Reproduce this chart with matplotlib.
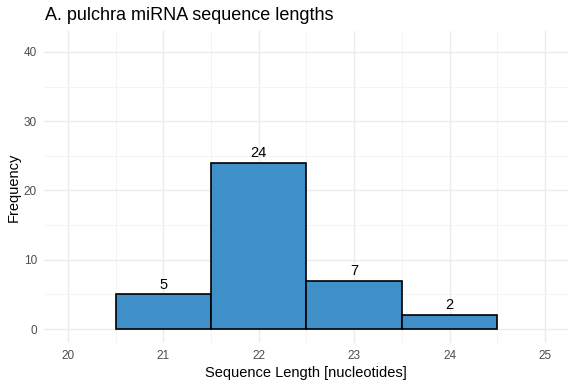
import matplotlib
matplotlib.use('Agg')
import matplotlib.pyplot as plt

plt.rcParams['font.family'] = ['Liberation Sans', 'DejaVu Sans']

lengths = [21, 22, 23, 24]
counts = [5, 24, 7, 2]
x_ticks = [20, 21, 22, 23, 24, 25]
y_ticks = [0, 10, 20, 30, 40]

fig = plt.figure(figsize=(5.76, 3.84), dpi=100)
ax = fig.add_axes([44 / 576, 41 / 384, 524 / 576, 312 / 384])

ax.bar(lengths, counts, width=1.0, color='#3F8FC9', edgecolor='black', linewidth=1.2, zorder=3)
for x, c in zip(lengths, counts):
    ax.text(x, c + 0.4, str(c), ha='center', va='bottom', fontsize=10.5, color='black', zorder=4)

ax.set_xlim(19.75, 25.24)
ax.set_ylim(-2.02, 43.03)
ax.set_xticks(x_ticks)
ax.set_yticks(y_ticks)
ax.set_xticks([x + 0.5 for x in x_ticks[:-1]], minor=True)
ax.set_yticks([5, 15, 25, 35], minor=True)
ax.grid(which='major', color='#EBEBEB', linewidth=1.0, zorder=0)
ax.grid(which='minor', color='#F3F3F3', linewidth=0.6, zorder=0)
ax.tick_params(which='both', length=0, labelsize=8.5, labelcolor='#4D4D4D', pad=5)
for s in ax.spines.values():
    s.set_visible(False)

ax.set_xlabel('Sequence Length [nucleotides]', fontsize=10.5, labelpad=3)
ax.set_ylabel('Frequency', fontsize=10.5, labelpad=2)
fig.text(45 / 576, 1 - 15 / 384, 'A. pulchra miRNA sequence lengths', fontsize=13, va='center', ha='left')

fig.savefig('out.png', dpi=100)
